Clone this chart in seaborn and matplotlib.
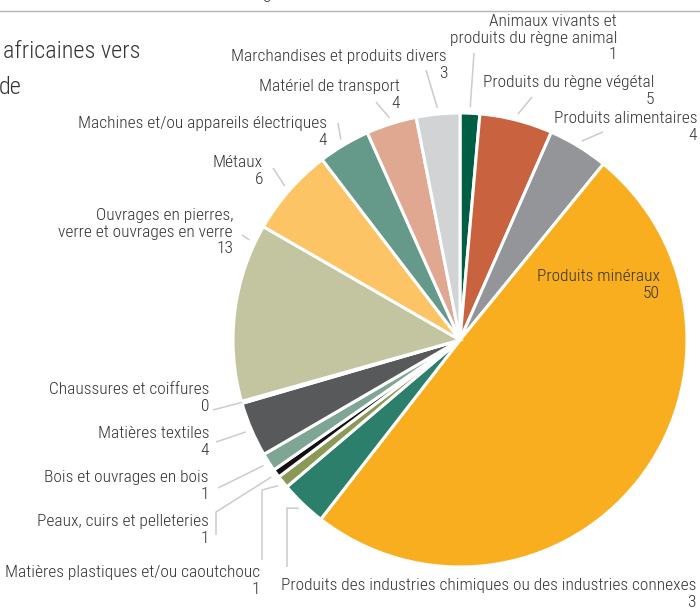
import matplotlib
matplotlib.use("Agg")
import matplotlib.pyplot as plt
from matplotlib import font_manager as fm
import numpy as np
import seaborn as sns

sns.set_theme(style="white")

# Pick a condensed sans family if one is installed
available = {f.name for f in fm.fontManager.ttflist}
condensed = ["Roboto Condensed", "Archivo Narrow", "PT Sans Narrow", "Liberation Sans Narrow",
             "IBM Plex Sans Condensed", "Fira Sans Condensed", "Open Sans Condensed",
             "Encode Sans Condensed", "Barlow Condensed", "Pragati Narrow", "Arimo"]
family = [f for f in condensed if f in available][:1] + ["DejaVu Sans"]
plt.rcParams["font.family"] = family
plt.rcParams["font.weight"] = "light"

# Share of exports by product group (%), clockwise from 12 o'clock
categories = [
    "Animaux vivants et\nproduits du règne animal",
    "Produits du règne végétal",
    "Produits alimentaires",
    "Produits minéraux",
    "Produits des industries chimiques ou des industries connexes",
    "Matières plastiques et/ou caoutchouc",
    "Peaux, cuirs et pelleteries",
    "Bois et ouvrages en bois",
    "Matières textiles",
    "Chaussures et coiffures",
    "Ouvrages en pierres,\nverre et ouvrages en verre",
    "Métaux",
    "Machines et/ou appareils électriques",
    "Matériel de transport",
    "Marchandises et produits divers",
]
shares = [1.4, 5.2, 4.3, 49.7, 3.3, 0.9, 0.6, 1.3, 3.9, 0.15, 12.7, 6.3, 3.7, 3.6, 3.1]
colors = [
    "#005E45", "#C8623F", "#939598", "#F9AE20", "#2C7F6B",
    "#8A9A56", "#111111", "#7FA695", "#58595B", "#C8C8C8",
    "#C2C5A0", "#FDC466", "#65998A", "#E0A890", "#D1D3D4",
]

W, H = 700, 609
TXT = "#333333"
LINE = "#cccccc"


def Y(y):
    """Convert a top-down pixel row to the axes' upward y coordinate."""
    return H - y


# Label block: right edge x, vertical centre y (pixels from top)
label_pos = [
    (617, 38), (654, 91), (697, 127), (660, 285), (696, 594),
    (260, 581), (209, 530), (209, 486), (209, 442), (209, 398),
    (233, 232), (263, 171), (327, 132), (400, 95), (447, 65),
]
# Where the leader line meets each wedge, as a fraction of the wedge measured
# counter-clockwise from its theta1 edge
anchor_frac = [0.5] * len(shares)
anchor_frac[10] = 0.1
# Leader line path beyond the wedge anchor (pixels from top); None = no line
leader_paths = [
    [(474, 53)],
    [(532, 97)],
    [(603, 132)],
    None,
    [(287, 508), (287, 567)],
    [(262, 490), (262, 560)],
    [(216, 512), (216, 535)],
    [(218, 488)],
    [(216, 442)],
    [(213, 410)],
    [(242, 235)],
    [(273, 168)],
    [(338, 123)],
    [(376, 102)],
    [(426, 70)],
]

fig = plt.figure(figsize=(W / 100, H / 100), dpi=100)
ax = fig.add_axes([0, 0, 1, 1])

cx, cy, R = 460, Y(340), 227
wedges, _ = ax.pie(
    shares, colors=colors, startangle=90, counterclock=False,
    center=(cx, cy), radius=R,
    wedgeprops=dict(edgecolor="white", linewidth=2.2),
)
ax.set_xlim(0, W)
ax.set_ylim(0, H)
ax.set_aspect("equal")
ax.axis("off")

fs = 12.5
for wedge, name, val, (tx, ty), path, fr in zip(wedges, categories, shares, label_pos,
                                                 leader_paths, anchor_frac):
    label = f"{name}\n{int(round(val))}"
    ax.text(tx, Y(ty), label, ha="right", va="center", multialignment="right",
            fontsize=fs, color=TXT, linespacing=1.1)
    if path is None:
        continue
    ang = np.deg2rad(wedge.theta1 + fr * (wedge.theta2 - wedge.theta1))
    rr = R * (1.0 if val < 0.5 else 1.027)
    xs = [cx + rr * np.cos(ang)] + [p[0] for p in path]
    ys = [cy + rr * np.sin(ang)] + [Y(p[1]) for p in path]
    ax.plot(xs, ys, color=LINE, lw=1.1, solid_capstyle="butt")

# Page elements above the chart
ax.plot([0, W], [Y(11), Y(11)], color="#b5b5b5", lw=1)
ax.text(266, Y(-3), "3", ha="center", va="center", fontsize=fs, color=TXT)
ax.text(3, Y(52), "africaines vers", ha="left", va="center", fontsize=17.5, color=TXT)
ax.text(-1, Y(88), "de", ha="left", va="center", fontsize=17.5, color=TXT)

fig.savefig("out.png", dpi=100)
